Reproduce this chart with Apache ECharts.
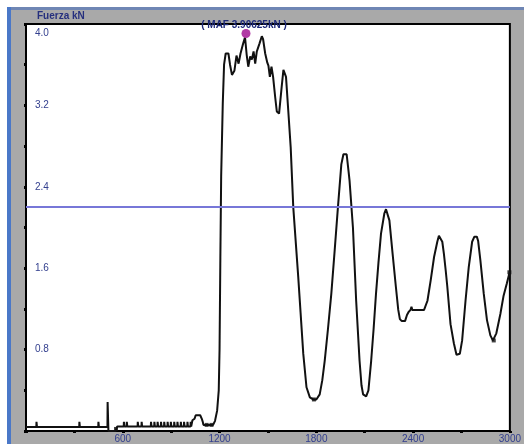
<!DOCTYPE html>
<html>
<head>
<meta charset="utf-8">
<script src="https://cdn.jsdelivr.net/npm/echarts@6/dist/echarts.min.js"></script>
<style>html,body{margin:0;padding:0;background:#fff;}#c{width:524px;height:447px;}</style>
</head>
<body>
<div id="c"></div>
<script>
// Time / position axis (x) and force (kN) values
const timeX = [
  0, 64, 65, 67, 68, 330, 331, 333, 334, 448, 449, 451, 452,
  505, 506, 510, 511, 556, 560, 566,
  606, 607, 609, 610, 624, 625, 627, 628, 692, 693, 695, 696, 716, 717, 719, 720,
  774, 775, 777, 778, 795, 796, 798, 799, 815, 816, 818, 819, 836, 837, 839, 840,
  856, 857, 859, 860, 877, 878, 880, 881, 897, 898, 900, 901, 918, 919, 921, 922,
  938, 939, 941, 942, 959, 960, 962, 963, 979, 980, 982, 983, 1000, 1001, 1003, 1004,
  1020, 1021, 1023, 1024,
  1030, 1032, 1045, 1052, 1080, 1090, 1096, 1100, 1160, 1172, 1185, 1195, 1200, 1205, 1210,
  1220, 1228, 1238, 1255, 1265, 1277, 1292, 1305, 1318, 1330, 1345, 1358, 1368, 1378, 1390,
  1400, 1411, 1421, 1431, 1448, 1462, 1470, 1483, 1496, 1503, 1512, 1522, 1532, 1545, 1555,
  1569, 1585, 1596, 1604, 1612, 1626, 1641, 1657, 1688, 1719, 1739, 1760, 1780, 1800, 1821,
  1837, 1852, 1872, 1893, 1914, 1934, 1955, 1968, 1975, 1988, 2000, 2006, 2027, 2047, 2068,
  2080, 2090, 2109, 2123, 2140, 2155, 2170, 2185, 2201, 2222, 2232, 2240, 2253, 2273, 2293,
  2308, 2318, 2330, 2350, 2362, 2372, 2384, 2390, 2395, 2468, 2489, 2509, 2530, 2550, 2560,
  2572, 2581, 2591, 2602, 2612, 2632, 2653, 2669, 2680, 2690, 2704, 2725, 2745, 2766, 2780,
  2795, 2803, 2817, 2838, 2858, 2879, 2895, 2905, 2916, 2941, 2961, 2981, 3000
];
const forceKN = [
  0.04, 0.04, 0.09, 0.09, 0.04, 0.04, 0.09, 0.09, 0.04, 0.04, 0.09, 0.09, 0.04,
  0.04, 0.285, 0.285, 0.0, 0.0, 0.02, 0.045,
  0.045, 0.09, 0.09, 0.045, 0.045, 0.09, 0.09, 0.045, 0.045, 0.09, 0.09, 0.045, 0.045, 0.09, 0.09, 0.045,
  0.045, 0.09, 0.09, 0.045, 0.045, 0.09, 0.09, 0.045, 0.045, 0.09, 0.09, 0.045, 0.045, 0.09, 0.09, 0.045,
  0.045, 0.09, 0.09, 0.045, 0.045, 0.09, 0.09, 0.045, 0.045, 0.09, 0.09, 0.045, 0.045, 0.09, 0.09, 0.045,
  0.045, 0.09, 0.09, 0.045, 0.045, 0.09, 0.09, 0.045, 0.045, 0.09, 0.09, 0.045, 0.045, 0.09, 0.09, 0.045,
  0.045, 0.09, 0.09, 0.045,
  0.05, 0.105, 0.12, 0.155, 0.155, 0.12, 0.09, 0.06, 0.06, 0.1, 0.2, 0.4, 0.8, 1.7, 2.5,
  3.22, 3.6, 3.71, 3.71, 3.6, 3.50, 3.54, 3.69, 3.61, 3.71, 3.80, 3.87, 3.70, 3.58, 3.68,
  3.65, 3.73, 3.61, 3.73, 3.81, 3.88, 3.85, 3.71, 3.62, 3.59, 3.48, 3.58, 3.48, 3.28, 3.14,
  3.12, 3.38, 3.55, 3.55, 3.48, 3.15, 2.79, 2.20, 1.51, 0.76, 0.43, 0.33, 0.31, 0.31, 0.36,
  0.5, 0.69, 1.0, 1.35, 1.78, 2.20, 2.62, 2.72, 2.73, 2.72, 2.55, 2.46, 2.0, 1.28, 0.69,
  0.45, 0.36, 0.34, 0.40, 0.69, 1.0, 1.35, 1.65, 1.94, 2.14, 2.18, 2.17, 2.07, 1.74, 1.42,
  1.19, 1.10, 1.08, 1.08, 1.14, 1.17, 1.19, 1.22, 1.19, 1.19, 1.28, 1.48, 1.71, 1.86, 1.92,
  1.92, 1.86, 1.74, 1.58, 1.42, 1.05, 0.86, 0.75, 0.74, 0.76, 0.89, 1.28, 1.61, 1.86, 1.91,
  1.91, 1.87, 1.68, 1.35, 1.09, 0.94, 0.89, 0.90, 0.96, 1.15, 1.33, 1.45, 1.57
];
// Small square sample markers drawn on the trace
const markX = [558, 1120, 1150, 1785, 2900, 2997];
const markY = [0.02, 0.06, 0.06, 0.31, 0.89, 1.56];
// Threshold line and maximum applied force (MAF)
const refLevel = 2.2;
const mafX = 1364;
const mafY = 3.90625;
const mafLabel = '( MAF 3.90625kN )';
const yTicks = { min: 0, max: 4, step: 0.4, labelStep: 0.8 };
const xTicks = { min: 0, max: 3000, step: 300, labelStep: 600 };

const lineData = timeX.map((x, i) => [x, forceKN[i]]);
const dotData = markX.map((x, i) => [x, markY[i]]);

const blue = '#34408f';
const chart = echarts.init(document.getElementById('c'), null, { renderer: 'canvas' });
chart.setOption({
  animation: false,
  backgroundColor: '#ffffff',
  title: {
    text: 'Fuerza kN', left: 37, top: 11, padding: 0,
    textStyle: { fontFamily: 'Liberation Sans', fontSize: 10, fontWeight: 'bold', color: '#26307e' }
  },
  graphic: [
    { type: 'rect', z: -10, shape: { x: 8, y: 8, width: 516, height: 436 }, style: { fill: '#a9a9a9' } },
    { type: 'rect', z: -9, shape: { x: 7, y: 7, width: 517, height: 3 }, style: { fill: '#6f86b4' } },
    { type: 'rect', z: -9, shape: { x: 7, y: 7, width: 4, height: 437 }, style: { fill: '#4a78c8' } }
  ],
  grid: {
    left: 26, right: 11, top: 24, bottom: 16, show: true,
    backgroundColor: '#ffffff', borderColor: '#000', borderWidth: 2
  },
  xAxis: {
    type: 'value', min: xTicks.min, max: xTicks.max, interval: xTicks.step,
    axisLine: { show: true, lineStyle: { color: '#000', width: 2 } },
    axisTick: { show: true, length: 2, lineStyle: { color: '#000', width: 3 } },
    splitLine: { show: false },
    axisLabel: {
      margin: 3, color: blue, fontFamily: 'Liberation Sans', fontSize: 10,
      showMinLabel: true, showMaxLabel: true, hideOverlap: false,
      formatter: v => (v > 0 && Math.abs(v / xTicks.labelStep - Math.round(v / xTicks.labelStep)) < 1e-6) ? String(v) : ''
    }
  },
  yAxis: {
    type: 'value', min: yTicks.min, max: yTicks.max, interval: yTicks.step,
    axisLine: { show: true, lineStyle: { color: '#000', width: 2 } },
    axisTick: { show: true, length: 2, lineStyle: { color: '#000', width: 3 } },
    splitLine: { show: false },
    axisLabel: {
      inside: true, margin: 9, color: blue, fontFamily: 'Liberation Sans', fontSize: 10,
      showMinLabel: true, showMaxLabel: true, hideOverlap: false,
      formatter: v => {
        const k = v / yTicks.labelStep;
        if (v <= 0 || Math.abs(k - Math.round(k)) > 1e-6) return '';
        if (Math.abs(v - yTicks.max) < 1e-6) return '{t|' + v.toFixed(1) + '}';
        return v.toFixed(1);
      },
      rich: { t: { padding: [18, 0, 0, 0], color: blue, fontFamily: 'Liberation Sans', fontSize: 10 } }
    }
  },
  series: [
    {
      type: 'line', data: lineData, showSymbol: false, symbol: 'none',
      lineStyle: { color: '#111', width: 2 }, z: 3,
      markLine: {
        silent: true, symbol: 'none', animation: false,
        lineStyle: { color: '#7777d8', width: 2, type: 'solid' },
        label: { show: false },
        data: [{ yAxis: refLevel }]
      },
      markPoint: {
        silent: true, animation: false,
        symbol: 'circle', symbolSize: 9,
        itemStyle: { color: '#b23aa5' },
        label: {
          show: true, position: 'inside', offset: [-2, -8],
          formatter: mafLabel, color: '#1e2a7a',
          fontFamily: 'Liberation Sans', fontSize: 10, fontWeight: 'bold'
        },
        data: [{ coord: [mafX, mafY] }]
      }
    },
    {
      type: 'scatter', data: dotData, symbol: 'rect', symbolSize: 4,
      itemStyle: { color: '#111' }, z: 4, silent: true
    }
  ]
});
</script>
</body>
</html>
